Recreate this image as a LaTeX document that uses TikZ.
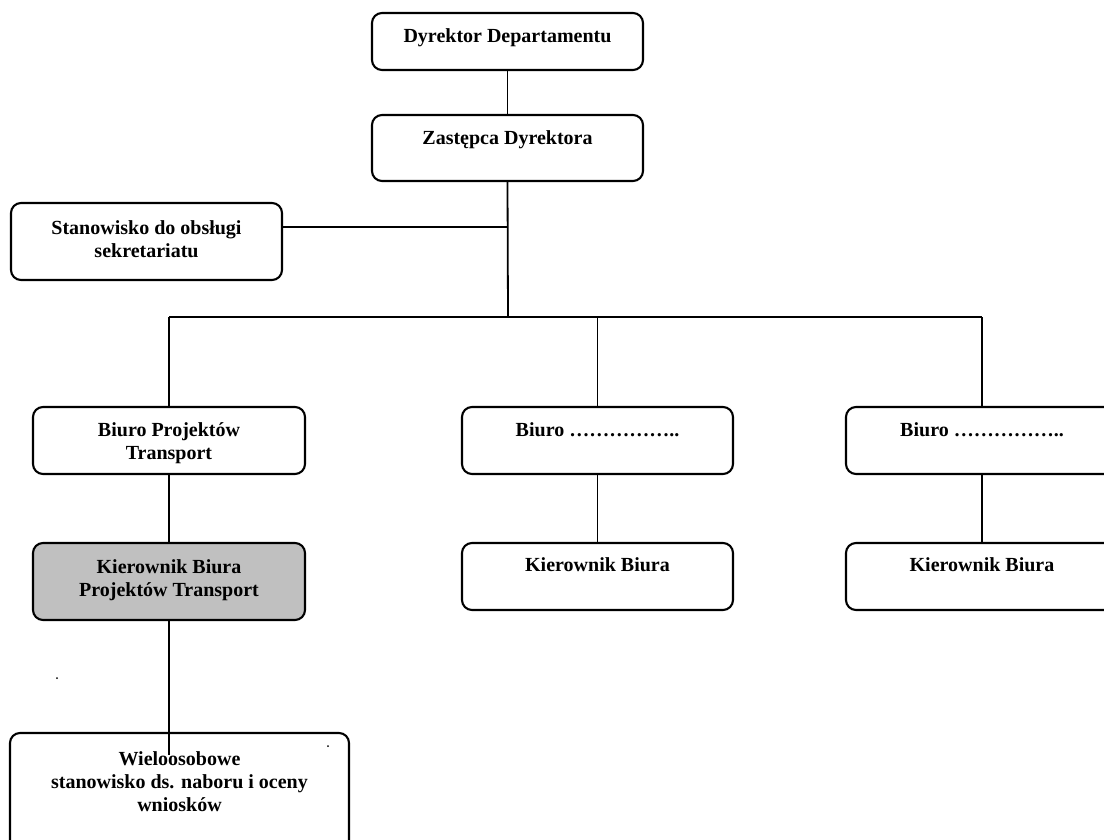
\documentclass[tikz,border=0pt]{standalone}
\usepackage{fontspec}
\setmainfont{Liberation Serif}
\definecolor{boxgray}{RGB}{192,192,192}
\tikzset{
  orgbox/.style={draw=black, line width=2.1pt, rounded corners=10pt, fill=white, inner sep=0pt},
  orgtext/.style={anchor=base, align=center, inner sep=0pt, font=\bfseries\fontsize{20}{23}\selectfont},
  link/.style={draw=black, line width=1.8pt}
}
\begin{document}
\begin{tikzpicture}[x=1pt,y=-1pt]
\clip (0,0) rectangle (1104,840);
\fill[white] (0,0) rectangle (1104,840);
% boxes
\node[orgbox, minimum width=271pt, minimum height=57pt] (D) at (507.5,41.5) {};
\node[orgbox, minimum width=271pt, minimum height=66pt] (Z) at (507.5,148) {};
\node[orgbox, minimum width=271pt, minimum height=77pt] (S) at (146.5,241.5) {};
\node[orgbox, minimum width=272pt, minimum height=67pt] (B1) at (169,440.5) {};
\node[orgbox, minimum width=271pt, minimum height=67pt] (B2) at (597.5,440.5) {};
\node[orgbox, minimum width=272pt, minimum height=67pt] (B3) at (982,440.5) {};
\node[orgbox, fill=boxgray, minimum width=272pt, minimum height=77pt] (K1) at (169,581.5) {};
\node[orgbox, minimum width=271pt, minimum height=67pt] (K2) at (597.5,576.5) {};
\node[orgbox, minimum width=272pt, minimum height=67pt] (K3) at (982,576.5) {};
\node[orgbox, minimum width=339pt, minimum height=134pt] (W) at (179.5,800) {};
% junctions
\coordinate (jS) at (508,227);
\coordinate (jM) at (508,317);
\coordinate (jL) at (169,317);
\coordinate (jC) at (597.5,317);
\coordinate (jR) at (982,317);
\coordinate (wEnd) at (169,755);
% connectors
\draw[link] (D.south) -- (Z.north);
\draw[link] (Z.south) -- (jM);
\draw[link] (S.east |- jS) -- (jS);
\draw[link] (jL) -- (jR);
\draw[link] (jL) -- (B1.north);
\draw[link] (jC) -- (B2.north);
\draw[link] (jR) -- (B3.north);
\draw[link] (B1.south) -- (K1.north);
\draw[link] (B2.south) -- (K2.north);
\draw[link] (B3.south) -- (K3.north);
\draw[link] (K1.south) -- (wEnd);
% texts (anchor = baseline of last line)
\node[orgtext] (tD) at ([yshift=-31pt]D.north) {Dyrektor Departamentu};
\node[orgtext] (tZ) at ([yshift=-31pt]Z.north) {Zastępca Dyrektora};
\node[orgtext] (tS) at ([yshift=-56pt]S.north) {Stanowisko do obsługi\\sekretariatu};
\node[orgtext] (tB1) at ([yshift=-54pt]B1.north) {Biuro Projektów\\Transport};
\node[orgtext] (tB2) at ([yshift=-31pt]B2.north) {Biuro ……………..};
\node[orgtext] (tB3) at ([yshift=-31pt]B3.north) {Biuro ……………..};
\node[orgtext] (tK1) at ([yshift=-55pt]K1.north) {Kierownik Biura\\Projektów Transport};
\node[orgtext] (tK2) at ([yshift=-30pt]K2.north) {Kierownik Biura};
\node[orgtext] (tK3) at ([yshift=-30pt]K3.north) {Kierownik Biura};
\node[orgtext] (tW) at ([yshift=-80pt]W.north) {Wieloosobowe\\stanowisko ds. naboru i oceny\\wniosków};
% stray dots
\fill (57,678) circle (1pt);
\fill (328,746) circle (1pt);
\end{tikzpicture}
\end{document}
